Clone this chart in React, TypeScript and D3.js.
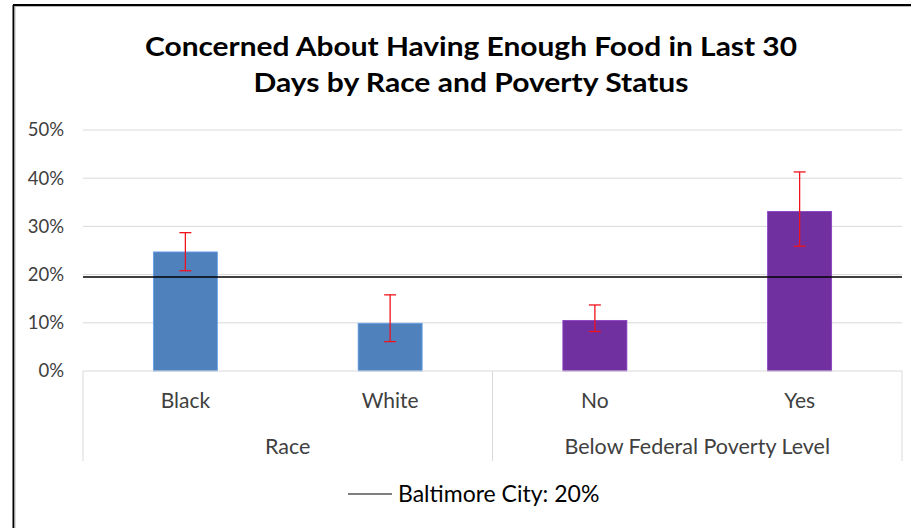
import React from "react";
import * as d3 from "d3";

const categories = ["Black", "White", "No", "Yes"];
const categoryGroup = ["Race", "Race", "Below Federal Poverty Level", "Below Federal Poverty Level"];
const groupNames = ["Race", "Below Federal Poverty Level"];
const values = [24.7, 9.9, 10.5, 33.1];
const errLow = [20.8, 6.1, 8.2, 25.9];
const errHigh = [28.7, 15.8, 13.7, 41.3];
const barColors = ["#4F81BD", "#4F81BD", "#7030A0", "#7030A0"];
const baselineValue = 19.5;
const baselineLabel = "Baltimore City: 20%";
const yTicks = [0, 10, 20, 30, 40, 50];
const titleLines = ["Concerned About Having Enough Food in Last 30", "Days by Race and Poverty Status"];

const W = 911;
const H = 528;
const plot = { left: 83, right: 902, top: 130, bottom: 371 };
const FONT = "Lato, 'Open Sans', sans-serif";
const titleWidths = [652, 435];

export default function App() {
  const x = d3
    .scaleBand<string>()
    .domain(categories)
    .range([plot.left, plot.right])
    .paddingInner(0.6874)
    .paddingOuter(0.3437);
  const y = d3.scaleLinear().domain([0, 50]).range([plot.bottom, plot.top]);
  const step = x.step();

  const groupExtents = groupNames.map((g) => {
    const idx = categories.map((_, i) => i).filter((i) => categoryGroup[i] === g);
    const x0 = plot.left + idx[0] * step;
    const x1 = plot.left + (idx[idx.length - 1] + 1) * step;
    return { name: g, x0, x1 };
  });
  const boundaries = Array.from(new Set(groupExtents.flatMap((g) => [g.x0, g.x1])));

  return (
    <svg
      width={W}
      height={H}
      style={{ position: "absolute", left: 0, top: 0, background: "#fff" }}
      fontFamily={FONT}
    >
      <rect x={0} y={0} width={W} height={H} fill="#fff" />
      <line x1={13.5} y1={5} x2={13.5} y2={H} stroke="#000" strokeWidth={2} />
      <line x1={13} y1={5} x2={W} y2={5} stroke="#000" strokeWidth={2} />
      <line x1={15} y1={6.5} x2={15} y2={H} stroke="#bbb" strokeWidth={1} />
      <line x1={15} y1={6.5} x2={W} y2={6.5} stroke="#bbb" strokeWidth={1} />

      {titleLines.map((t, i) => (
        <text
          key={i}
          x={(145 + 797) / 2}
          y={56 + i * 36}
          textAnchor="middle"
          fontSize={27}
          fontWeight="bold"
          fill="#000"
          textLength={titleWidths[i]}
          lengthAdjust="spacingAndGlyphs"
        >
          {t}
        </text>
      ))}

      {yTicks.filter((t) => t > 0).map((t) => (
        <line key={t} x1={plot.left} x2={plot.right} y1={y(t)} y2={y(t)} stroke="#D9D9D9" strokeWidth={1} />
      ))}
      {yTicks.map((t) => (
        <text key={t} x={64} y={y(t)} dy="0.35em" textAnchor="end" fontSize={18.5} fill="#404040">
          {`${t}%`}
        </text>
      ))}

      {categories.map((c, i) => (
        <rect
          key={c}
          x={x(c)!}
          y={y(values[i])}
          width={x.bandwidth()}
          height={y(0) - y(values[i])}
          fill={barColors[i]}
          stroke={d3.color(barColors[i])!.brighter(0.6).formatHex()}
          strokeWidth={0.8}
        />
      ))}

      <line x1={plot.left} x2={plot.right} y1={y(baselineValue)} y2={y(baselineValue)} stroke="#000" strokeWidth={1.5} />

      {categories.map((c, i) => {
        const cx = x(c)! + x.bandwidth() / 2;
        return (
          <g key={c} stroke="#F0131E" strokeWidth={1.3}>
            <line x1={cx} x2={cx} y1={y(errHigh[i])} y2={y(errLow[i])} />
            <line x1={cx - 6} x2={cx + 6} y1={y(errHigh[i])} y2={y(errHigh[i])} />
            <line x1={cx - 6} x2={cx + 6} y1={y(errLow[i])} y2={y(errLow[i])} />
          </g>
        );
      })}

      <line x1={plot.left} x2={plot.right} y1={plot.bottom} y2={plot.bottom} stroke="#D9D9D9" strokeWidth={1} />
      {boundaries.map((bx, i) => (
        <line key={i} x1={bx} x2={bx} y1={plot.bottom} y2={461} stroke="#D9D9D9" strokeWidth={1} />
      ))}
      {categories.map((c) => (
        <text key={c} x={x(c)! + x.bandwidth() / 2} y={401} dy="0.35em" textAnchor="middle" fontSize={21} fill="#404040">
          {c}
        </text>
      ))}
      {groupExtents.map((g) => (
        <text key={g.name} x={(g.x0 + g.x1) / 2} y={446} dy="0.35em" textAnchor="middle" fontSize={21.5} fill="#404040">
          {g.name}
        </text>
      ))}

      <line x1={348} x2={392} y1={494} y2={494} stroke="#000" strokeWidth={1.2} />
      <text x={398} y={494} dy="0.35em" fontSize={23} fill="#000">
        {baselineLabel}
      </text>
    </svg>
  );
}
